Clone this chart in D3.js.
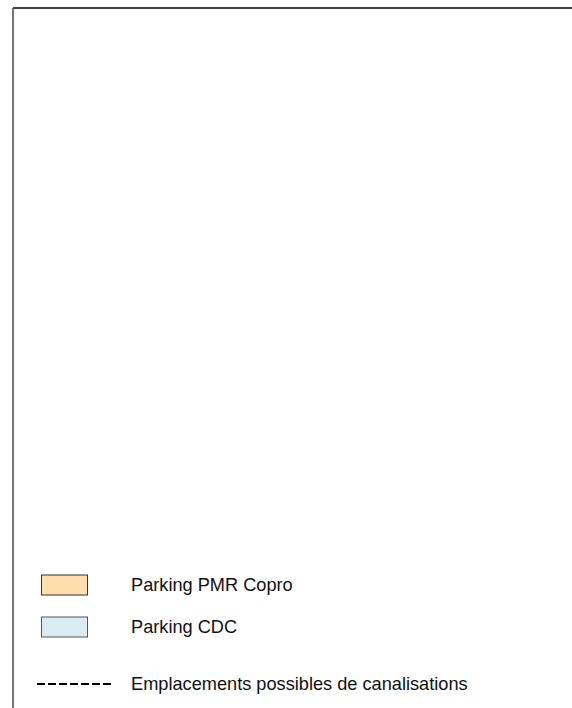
<!DOCTYPE html>
<html>
<head>
<meta charset="utf-8">
<script src="https://cdn.jsdelivr.net/npm/d3@7"></script>
<style>
  body { margin: 0; background: #fff; }
  text { font-family: "Liberation Sans", Arial, sans-serif; }
</style>
</head>
<body>
<div id="legend"></div>
<script>
// legend entries
var patchLabels = ["Parking PMR Copro", "Parking CDC"];
var patchColors = ["#FFDEAD", "#DAECF2"];
var patchStrokes = ["#333", "#555"];
var lineLabels = ["Emplacements possibles de canalisations"];

var width = 572,
    height = 708;

var svg = d3.select("#legend").append("svg")
    .attr("width", width)
    .attr("height", height);

// frame of the map (only top + left edges show)
svg.append("line")
    .attr("x1", 13).attr("x2", width)
    .attr("y1", 8).attr("y2", 8)
    .attr("stroke", "#000")
    .attr("stroke-width", 1.3);

svg.append("line")
    .attr("x1", 13).attr("x2", 13)
    .attr("y1", 8).attr("y2", height)
    .attr("stroke", "#555")
    .attr("stroke-width", 1.6);

// rows of the legend
var y = d3.scalePoint()
    .domain(patchLabels)
    .range([585, 627]);

var yLine = d3.scalePoint()
    .domain(lineLabels)
    .range([684, 684]);

var patch = svg.selectAll("g.patch")
    .data(patchLabels)
    .enter().append("g")
    .attr("class", "patch")
    .attr("transform", function(d) { return "translate(0," + y(d) + ")"; });

patch.append("rect")
    .attr("x", 41.5)
    .attr("y", -10)
    .attr("width", 46)
    .attr("height", 20)
    .attr("fill", function(d, i) { return patchColors[i]; })
    .attr("stroke", function(d, i) { return patchStrokes[i]; })
    .attr("stroke-width", 1);

patch.append("text")
    .attr("x", 131)
    .attr("dy", "0.35em")
    .attr("font-size", "18.2px")
    .attr("fill", "#111")
    .text(function(d) { return d; });

var lineItem = svg.selectAll("g.lineitem")
    .data(lineLabels)
    .enter().append("g")
    .attr("class", "lineitem")
    .attr("transform", function(d) { return "translate(0," + yLine(d) + ")"; });

lineItem.append("line")
    .attr("x1", 37).attr("x2", 112)
    .attr("y1", 0).attr("y2", 0)
    .attr("stroke", "#000")
    .attr("stroke-width", 2.2)
    .attr("stroke-dasharray", "8,3");

lineItem.append("text")
    .attr("x", 131)
    .attr("dy", "0.35em")
    .attr("font-size", "18.2px")
    .attr("fill", "#111")
    .text(function(d) { return d; });
</script>
</body>
</html>
